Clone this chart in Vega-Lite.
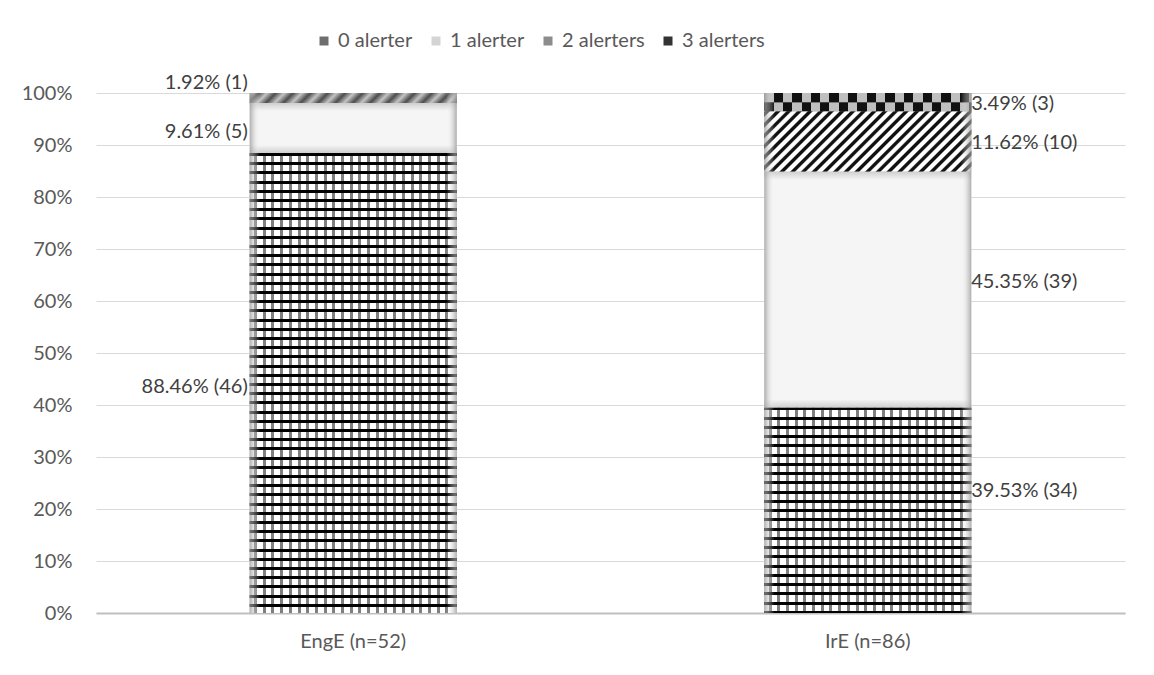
{
  "$schema": "https://vega.github.io/schema/vega-lite/v6.json",
  "width": 1029,
  "height": 520,
  "autosize": {"type": "none"},
  "padding": {"left": 96, "top": 93, "right": 29, "bottom": 62},
  "background": "white",
  "config": {
    "view": {"stroke": null},
    "font": "Lato",
    "axis": {"labelFont": "Lato", "labelColor": "#595959", "labelFontSize": 20, "title": null, "ticks": false}
  },
  "data": {
    "values": [
      {"group": "EngE (n=52)", "alerters": "0 alerter", "pct": 88.46, "n": 46},
      {"group": "EngE (n=52)", "alerters": "1 alerter", "pct": 9.61, "n": 5},
      {"group": "EngE (n=52)", "alerters": "2 alerters", "pct": 1.92, "n": 1},
      {"group": "IrE (n=86)", "alerters": "0 alerter", "pct": 39.53, "n": 34},
      {"group": "IrE (n=86)", "alerters": "1 alerter", "pct": 45.35, "n": 39},
      {"group": "IrE (n=86)", "alerters": "2 alerters", "pct": 11.62, "n": 10},
      {"group": "IrE (n=86)", "alerters": "3 alerters", "pct": 3.49, "n": 3}
    ]
  },
  "transform": [
    {"stack": "pct", "groupby": ["group"], "sort": [{"field": "alerters", "order": "ascending"}], "as": ["lo", "hi"]},
    {"calculate": "(datum.lo + datum.hi) / 2", "as": "mid"},
    {"calculate": "format(datum.pct, '.2f') + '% (' + datum.n + ')'", "as": "label"}
  ],
  "encoding": {
    "x": {
      "field": "group",
      "type": "nominal",
      "scale": {"paddingInner": 0.5977, "paddingOuter": 0.2988},
      "axis": {"labelAngle": 0, "labelPadding": 18, "domainColor": "#bfbfbf", "domainWidth": 2, "grid": false}
    }
  },
  "layer": [
    {
      "mark": {"type": "bar"},
      "encoding": {
        "y": {
          "field": "lo",
          "type": "quantitative",
          "scale": {"domain": [0, 100], "nice": false},
          "axis": {
            "values": [0, 10, 20, 30, 40, 50, 60, 70, 80, 90, 100],
            "labelExpr": "datum.value + '%'",
            "domain": false,
            "grid": true,
            "gridColor": "#d9d9d9",
            "gridWidth": 1,
            "labelPadding": 24
          }
        },
        "y2": {"field": "hi"},
        "fill": {
          "field": "alerters",
          "type": "nominal",
          "scale": {
            "domain": ["0 alerter", "1 alerter", "2 alerters", "3 alerters"],
            "range": ["#6e6e6e", "#d4d4d4", "#8c8c8c", "#333333"]
          },
          "legend": {
            "orient": "none",
            "legendX": 218,
            "legendY": -62,
            "direction": "horizontal",
            "title": null,
            "symbolType": "square",
            "symbolSize": 81,
            "symbolStrokeWidth": 0,
            "labelFont": "Lato",
            "labelFontSize": 20,
            "labelColor": "#595959",
            "labelOffset": 4,
            "columnPadding": 13
          }
        }
      }
    },
    {
      "description": "brick courses, EngE",
      "transform": [{"filter": "datum.group === 'EngE (n=52)' && datum.alerters === '0 alerter'"}],
      "mark": {
        "type": "bar",
        "fill": {
          "gradient": "linear", "x1": 0, "y1": 0, "x2": 0, "y2": 1,
          "stops": [
            {"offset":0,"color":"#000"},{"offset":0.0065,"color":"#000"},{"offset":0.0065,"color":"#fff"},{"offset":0.02,"color":"#fff"},
            {"offset":0.02,"color":"#000"},{"offset":0.0265,"color":"#000"},{"offset":0.0265,"color":"#fff"},{"offset":0.04,"color":"#fff"},
            {"offset":0.04,"color":"#000"},{"offset":0.0465,"color":"#000"},{"offset":0.0465,"color":"#fff"},{"offset":0.06,"color":"#fff"},
            {"offset":0.06,"color":"#000"},{"offset":0.0665,"color":"#000"},{"offset":0.0665,"color":"#fff"},{"offset":0.08,"color":"#fff"},
            {"offset":0.08,"color":"#000"},{"offset":0.0865,"color":"#000"},{"offset":0.0865,"color":"#fff"},{"offset":0.1,"color":"#fff"},
            {"offset":0.1,"color":"#000"},{"offset":0.1065,"color":"#000"},{"offset":0.1065,"color":"#fff"},{"offset":0.12,"color":"#fff"},
            {"offset":0.12,"color":"#000"},{"offset":0.1265,"color":"#000"},{"offset":0.1265,"color":"#fff"},{"offset":0.14,"color":"#fff"},
            {"offset":0.14,"color":"#000"},{"offset":0.1465,"color":"#000"},{"offset":0.1465,"color":"#fff"},{"offset":0.16,"color":"#fff"},
            {"offset":0.16,"color":"#000"},{"offset":0.1665,"color":"#000"},{"offset":0.1665,"color":"#fff"},{"offset":0.18,"color":"#fff"},
            {"offset":0.18,"color":"#000"},{"offset":0.1865,"color":"#000"},{"offset":0.1865,"color":"#fff"},{"offset":0.2,"color":"#fff"},
            {"offset":0.2,"color":"#000"},{"offset":0.2065,"color":"#000"},{"offset":0.2065,"color":"#fff"},{"offset":0.22,"color":"#fff"},
            {"offset":0.22,"color":"#000"},{"offset":0.2265,"color":"#000"},{"offset":0.2265,"color":"#fff"},{"offset":0.24,"color":"#fff"},
            {"offset":0.24,"color":"#000"},{"offset":0.2465,"color":"#000"},{"offset":0.2465,"color":"#fff"},{"offset":0.26,"color":"#fff"},
            {"offset":0.26,"color":"#000"},{"offset":0.2665,"color":"#000"},{"offset":0.2665,"color":"#fff"},{"offset":0.28,"color":"#fff"},
            {"offset":0.28,"color":"#000"},{"offset":0.2865,"color":"#000"},{"offset":0.2865,"color":"#fff"},{"offset":0.3,"color":"#fff"},
            {"offset":0.3,"color":"#000"},{"offset":0.3065,"color":"#000"},{"offset":0.3065,"color":"#fff"},{"offset":0.32,"color":"#fff"},
            {"offset":0.32,"color":"#000"},{"offset":0.3265,"color":"#000"},{"offset":0.3265,"color":"#fff"},{"offset":0.34,"color":"#fff"},
            {"offset":0.34,"color":"#000"},{"offset":0.3465,"color":"#000"},{"offset":0.3465,"color":"#fff"},{"offset":0.36,"color":"#fff"},
            {"offset":0.36,"color":"#000"},{"offset":0.3665,"color":"#000"},{"offset":0.3665,"color":"#fff"},{"offset":0.38,"color":"#fff"},
            {"offset":0.38,"color":"#000"},{"offset":0.3865,"color":"#000"},{"offset":0.3865,"color":"#fff"},{"offset":0.4,"color":"#fff"},
            {"offset":0.4,"color":"#000"},{"offset":0.4065,"color":"#000"},{"offset":0.4065,"color":"#fff"},{"offset":0.42,"color":"#fff"},
            {"offset":0.42,"color":"#000"},{"offset":0.4265,"color":"#000"},{"offset":0.4265,"color":"#fff"},{"offset":0.44,"color":"#fff"},
            {"offset":0.44,"color":"#000"},{"offset":0.4465,"color":"#000"},{"offset":0.4465,"color":"#fff"},{"offset":0.46,"color":"#fff"},
            {"offset":0.46,"color":"#000"},{"offset":0.4665,"color":"#000"},{"offset":0.4665,"color":"#fff"},{"offset":0.48,"color":"#fff"},
            {"offset":0.48,"color":"#000"},{"offset":0.4865,"color":"#000"},{"offset":0.4865,"color":"#fff"},{"offset":0.5,"color":"#fff"},
            {"offset":0.5,"color":"#000"},{"offset":0.5065,"color":"#000"},{"offset":0.5065,"color":"#fff"},{"offset":0.52,"color":"#fff"},
            {"offset":0.52,"color":"#000"},{"offset":0.5265,"color":"#000"},{"offset":0.5265,"color":"#fff"},{"offset":0.54,"color":"#fff"},
            {"offset":0.54,"color":"#000"},{"offset":0.5465,"color":"#000"},{"offset":0.5465,"color":"#fff"},{"offset":0.56,"color":"#fff"},
            {"offset":0.56,"color":"#000"},{"offset":0.5665,"color":"#000"},{"offset":0.5665,"color":"#fff"},{"offset":0.58,"color":"#fff"},
            {"offset":0.58,"color":"#000"},{"offset":0.5865,"color":"#000"},{"offset":0.5865,"color":"#fff"},{"offset":0.6,"color":"#fff"},
            {"offset":0.6,"color":"#000"},{"offset":0.6065,"color":"#000"},{"offset":0.6065,"color":"#fff"},{"offset":0.62,"color":"#fff"},
            {"offset":0.62,"color":"#000"},{"offset":0.6265,"color":"#000"},{"offset":0.6265,"color":"#fff"},{"offset":0.64,"color":"#fff"},
            {"offset":0.64,"color":"#000"},{"offset":0.6465,"color":"#000"},{"offset":0.6465,"color":"#fff"},{"offset":0.66,"color":"#fff"},
            {"offset":0.66,"color":"#000"},{"offset":0.6665,"color":"#000"},{"offset":0.6665,"color":"#fff"},{"offset":0.68,"color":"#fff"},
            {"offset":0.68,"color":"#000"},{"offset":0.6865,"color":"#000"},{"offset":0.6865,"color":"#fff"},{"offset":0.7,"color":"#fff"},
            {"offset":0.7,"color":"#000"},{"offset":0.7065,"color":"#000"},{"offset":0.7065,"color":"#fff"},{"offset":0.72,"color":"#fff"},
            {"offset":0.72,"color":"#000"},{"offset":0.7265,"color":"#000"},{"offset":0.7265,"color":"#fff"},{"offset":0.74,"color":"#fff"},
            {"offset":0.74,"color":"#000"},{"offset":0.7465,"color":"#000"},{"offset":0.7465,"color":"#fff"},{"offset":0.76,"color":"#fff"},
            {"offset":0.76,"color":"#000"},{"offset":0.7665,"color":"#000"},{"offset":0.7665,"color":"#fff"},{"offset":0.78,"color":"#fff"},
            {"offset":0.78,"color":"#000"},{"offset":0.7865,"color":"#000"},{"offset":0.7865,"color":"#fff"},{"offset":0.8,"color":"#fff"},
            {"offset":0.8,"color":"#000"},{"offset":0.8065,"color":"#000"},{"offset":0.8065,"color":"#fff"},{"offset":0.82,"color":"#fff"},
            {"offset":0.82,"color":"#000"},{"offset":0.8265,"color":"#000"},{"offset":0.8265,"color":"#fff"},{"offset":0.84,"color":"#fff"},
            {"offset":0.84,"color":"#000"},{"offset":0.8465,"color":"#000"},{"offset":0.8465,"color":"#fff"},{"offset":0.86,"color":"#fff"},
            {"offset":0.86,"color":"#000"},{"offset":0.8665,"color":"#000"},{"offset":0.8665,"color":"#fff"},{"offset":0.88,"color":"#fff"},
            {"offset":0.88,"color":"#000"},{"offset":0.8865,"color":"#000"},{"offset":0.8865,"color":"#fff"},{"offset":0.9,"color":"#fff"},
            {"offset":0.9,"color":"#000"},{"offset":0.9065,"color":"#000"},{"offset":0.9065,"color":"#fff"},{"offset":0.92,"color":"#fff"},
            {"offset":0.92,"color":"#000"},{"offset":0.9265,"color":"#000"},{"offset":0.9265,"color":"#fff"},{"offset":0.94,"color":"#fff"},
            {"offset":0.94,"color":"#000"},{"offset":0.9465,"color":"#000"},{"offset":0.9465,"color":"#fff"},{"offset":0.96,"color":"#fff"},
            {"offset":0.96,"color":"#000"},{"offset":0.9665,"color":"#000"},{"offset":0.9665,"color":"#fff"},{"offset":0.98,"color":"#fff"},
            {"offset":0.98,"color":"#000"},{"offset":0.9865,"color":"#000"},{"offset":0.9865,"color":"#fff"},{"offset":1,"color":"#fff"}
          ]
        }
      },
      "encoding": {"y": {"field": "lo", "type": "quantitative"}, "y2": {"field": "hi"}}
    },
    {
      "description": "brick courses, IrE",
      "transform": [{"filter": "datum.group === 'IrE (n=86)' && datum.alerters === '0 alerter'"}],
      "mark": {
        "type": "bar",
        "fill": {
          "gradient": "linear", "x1": 0, "y1": 0, "x2": 0, "y2": 1,
          "stops": [
            {"offset":0,"color":"#000"},{"offset":0.0145,"color":"#000"},{"offset":0.0145,"color":"#fff"},{"offset":0.045,"color":"#fff"},
            {"offset":0.045,"color":"#000"},{"offset":0.0595,"color":"#000"},{"offset":0.0595,"color":"#fff"},{"offset":0.09,"color":"#fff"},
            {"offset":0.09,"color":"#000"},{"offset":0.1045,"color":"#000"},{"offset":0.1045,"color":"#fff"},{"offset":0.135,"color":"#fff"},
            {"offset":0.135,"color":"#000"},{"offset":0.1495,"color":"#000"},{"offset":0.1495,"color":"#fff"},{"offset":0.18,"color":"#fff"},
            {"offset":0.18,"color":"#000"},{"offset":0.1945,"color":"#000"},{"offset":0.1945,"color":"#fff"},{"offset":0.225,"color":"#fff"},
            {"offset":0.225,"color":"#000"},{"offset":0.2395,"color":"#000"},{"offset":0.2395,"color":"#fff"},{"offset":0.27,"color":"#fff"},
            {"offset":0.27,"color":"#000"},{"offset":0.2845,"color":"#000"},{"offset":0.2845,"color":"#fff"},{"offset":0.315,"color":"#fff"},
            {"offset":0.315,"color":"#000"},{"offset":0.3295,"color":"#000"},{"offset":0.3295,"color":"#fff"},{"offset":0.36,"color":"#fff"},
            {"offset":0.36,"color":"#000"},{"offset":0.3745,"color":"#000"},{"offset":0.3745,"color":"#fff"},{"offset":0.405,"color":"#fff"},
            {"offset":0.405,"color":"#000"},{"offset":0.4195,"color":"#000"},{"offset":0.4195,"color":"#fff"},{"offset":0.45,"color":"#fff"},
            {"offset":0.45,"color":"#000"},{"offset":0.4645,"color":"#000"},{"offset":0.4645,"color":"#fff"},{"offset":0.495,"color":"#fff"},
            {"offset":0.495,"color":"#000"},{"offset":0.5095,"color":"#000"},{"offset":0.5095,"color":"#fff"},{"offset":0.54,"color":"#fff"},
            {"offset":0.54,"color":"#000"},{"offset":0.5545,"color":"#000"},{"offset":0.5545,"color":"#fff"},{"offset":0.585,"color":"#fff"},
            {"offset":0.585,"color":"#000"},{"offset":0.5995,"color":"#000"},{"offset":0.5995,"color":"#fff"},{"offset":0.63,"color":"#fff"},
            {"offset":0.63,"color":"#000"},{"offset":0.6445,"color":"#000"},{"offset":0.6445,"color":"#fff"},{"offset":0.675,"color":"#fff"},
            {"offset":0.675,"color":"#000"},{"offset":0.6895,"color":"#000"},{"offset":0.6895,"color":"#fff"},{"offset":0.72,"color":"#fff"},
            {"offset":0.72,"color":"#000"},{"offset":0.7345,"color":"#000"},{"offset":0.7345,"color":"#fff"},{"offset":0.765,"color":"#fff"},
            {"offset":0.765,"color":"#000"},{"offset":0.7795,"color":"#000"},{"offset":0.7795,"color":"#fff"},{"offset":0.81,"color":"#fff"},
            {"offset":0.81,"color":"#000"},{"offset":0.8245,"color":"#000"},{"offset":0.8245,"color":"#fff"},{"offset":0.855,"color":"#fff"},
            {"offset":0.855,"color":"#000"},{"offset":0.8695,"color":"#000"},{"offset":0.8695,"color":"#fff"},{"offset":0.9,"color":"#fff"},
            {"offset":0.9,"color":"#000"},{"offset":0.9145,"color":"#000"},{"offset":0.9145,"color":"#fff"},{"offset":0.945,"color":"#fff"},
            {"offset":0.945,"color":"#000"},{"offset":0.9595,"color":"#000"},{"offset":0.9595,"color":"#fff"},{"offset":0.99,"color":"#fff"},
            {"offset":0.99,"color":"#000"},{"offset":1,"color":"#000"}
          ]
        }
      },
      "encoding": {"y": {"field": "lo", "type": "quantitative"}, "y2": {"field": "hi"}}
    },
    {
      "description": "brick joints, staggered courses shown at half strength",
      "transform": [{"filter": "datum.alerters === '0 alerter'"}],
      "mark": {
        "type": "bar",
        "fill": {
          "gradient": "linear", "x1": 0, "y1": 0, "x2": 1, "y2": 0,
          "stops": [
            {"offset":0,"color":"rgba(0,0,0,0)"},
            {"offset":0.021,"color":"rgba(0,0,0,0)"},{"offset":0.021,"color":"rgba(0,0,0,0.5)"},{"offset":0.0355,"color":"rgba(0,0,0,0.5)"},{"offset":0.0355,"color":"rgba(0,0,0,0)"},
            {"offset":0.063,"color":"rgba(0,0,0,0)"},{"offset":0.063,"color":"rgba(0,0,0,0.5)"},{"offset":0.0775,"color":"rgba(0,0,0,0.5)"},{"offset":0.0775,"color":"rgba(0,0,0,0)"},
            {"offset":0.105,"color":"rgba(0,0,0,0)"},{"offset":0.105,"color":"rgba(0,0,0,0.5)"},{"offset":0.1195,"color":"rgba(0,0,0,0.5)"},{"offset":0.1195,"color":"rgba(0,0,0,0)"},
            {"offset":0.147,"color":"rgba(0,0,0,0)"},{"offset":0.147,"color":"rgba(0,0,0,0.5)"},{"offset":0.1615,"color":"rgba(0,0,0,0.5)"},{"offset":0.1615,"color":"rgba(0,0,0,0)"},
            {"offset":0.189,"color":"rgba(0,0,0,0)"},{"offset":0.189,"color":"rgba(0,0,0,0.5)"},{"offset":0.2035,"color":"rgba(0,0,0,0.5)"},{"offset":0.2035,"color":"rgba(0,0,0,0)"},
            {"offset":0.231,"color":"rgba(0,0,0,0)"},{"offset":0.231,"color":"rgba(0,0,0,0.5)"},{"offset":0.2455,"color":"rgba(0,0,0,0.5)"},{"offset":0.2455,"color":"rgba(0,0,0,0)"},
            {"offset":0.273,"color":"rgba(0,0,0,0)"},{"offset":0.273,"color":"rgba(0,0,0,0.5)"},{"offset":0.2875,"color":"rgba(0,0,0,0.5)"},{"offset":0.2875,"color":"rgba(0,0,0,0)"},
            {"offset":0.315,"color":"rgba(0,0,0,0)"},{"offset":0.315,"color":"rgba(0,0,0,0.5)"},{"offset":0.3295,"color":"rgba(0,0,0,0.5)"},{"offset":0.3295,"color":"rgba(0,0,0,0)"},
            {"offset":0.357,"color":"rgba(0,0,0,0)"},{"offset":0.357,"color":"rgba(0,0,0,0.5)"},{"offset":0.3715,"color":"rgba(0,0,0,0.5)"},{"offset":0.3715,"color":"rgba(0,0,0,0)"},
            {"offset":0.399,"color":"rgba(0,0,0,0)"},{"offset":0.399,"color":"rgba(0,0,0,0.5)"},{"offset":0.4135,"color":"rgba(0,0,0,0.5)"},{"offset":0.4135,"color":"rgba(0,0,0,0)"},
            {"offset":0.441,"color":"rgba(0,0,0,0)"},{"offset":0.441,"color":"rgba(0,0,0,0.5)"},{"offset":0.4555,"color":"rgba(0,0,0,0.5)"},{"offset":0.4555,"color":"rgba(0,0,0,0)"},
            {"offset":0.483,"color":"rgba(0,0,0,0)"},{"offset":0.483,"color":"rgba(0,0,0,0.5)"},{"offset":0.4975,"color":"rgba(0,0,0,0.5)"},{"offset":0.4975,"color":"rgba(0,0,0,0)"},
            {"offset":0.525,"color":"rgba(0,0,0,0)"},{"offset":0.525,"color":"rgba(0,0,0,0.5)"},{"offset":0.5395,"color":"rgba(0,0,0,0.5)"},{"offset":0.5395,"color":"rgba(0,0,0,0)"},
            {"offset":0.567,"color":"rgba(0,0,0,0)"},{"offset":0.567,"color":"rgba(0,0,0,0.5)"},{"offset":0.5815,"color":"rgba(0,0,0,0.5)"},{"offset":0.5815,"color":"rgba(0,0,0,0)"},
            {"offset":0.609,"color":"rgba(0,0,0,0)"},{"offset":0.609,"color":"rgba(0,0,0,0.5)"},{"offset":0.6235,"color":"rgba(0,0,0,0.5)"},{"offset":0.6235,"color":"rgba(0,0,0,0)"},
            {"offset":0.651,"color":"rgba(0,0,0,0)"},{"offset":0.651,"color":"rgba(0,0,0,0.5)"},{"offset":0.6655,"color":"rgba(0,0,0,0.5)"},{"offset":0.6655,"color":"rgba(0,0,0,0)"},
            {"offset":0.693,"color":"rgba(0,0,0,0)"},{"offset":0.693,"color":"rgba(0,0,0,0.5)"},{"offset":0.7075,"color":"rgba(0,0,0,0.5)"},{"offset":0.7075,"color":"rgba(0,0,0,0)"},
            {"offset":0.735,"color":"rgba(0,0,0,0)"},{"offset":0.735,"color":"rgba(0,0,0,0.5)"},{"offset":0.7495,"color":"rgba(0,0,0,0.5)"},{"offset":0.7495,"color":"rgba(0,0,0,0)"},
            {"offset":0.777,"color":"rgba(0,0,0,0)"},{"offset":0.777,"color":"rgba(0,0,0,0.5)"},{"offset":0.7915,"color":"rgba(0,0,0,0.5)"},{"offset":0.7915,"color":"rgba(0,0,0,0)"},
            {"offset":0.819,"color":"rgba(0,0,0,0)"},{"offset":0.819,"color":"rgba(0,0,0,0.5)"},{"offset":0.8335,"color":"rgba(0,0,0,0.5)"},{"offset":0.8335,"color":"rgba(0,0,0,0)"},
            {"offset":0.861,"color":"rgba(0,0,0,0)"},{"offset":0.861,"color":"rgba(0,0,0,0.5)"},{"offset":0.8755,"color":"rgba(0,0,0,0.5)"},{"offset":0.8755,"color":"rgba(0,0,0,0)"},
            {"offset":0.903,"color":"rgba(0,0,0,0)"},{"offset":0.903,"color":"rgba(0,0,0,0.5)"},{"offset":0.9175,"color":"rgba(0,0,0,0.5)"},{"offset":0.9175,"color":"rgba(0,0,0,0)"},
            {"offset":0.945,"color":"rgba(0,0,0,0)"},{"offset":0.945,"color":"rgba(0,0,0,0.5)"},{"offset":0.9595,"color":"rgba(0,0,0,0.5)"},{"offset":0.9595,"color":"rgba(0,0,0,0)"},
            {"offset":1,"color":"rgba(0,0,0,0)"}
          ]
        }
      },
      "encoding": {"y": {"field": "lo", "type": "quantitative"}, "y2": {"field": "hi"}}
    },
    {
      "description": "dotted fill, EngE",
      "transform": [{"filter": "datum.group === 'EngE (n=52)' && datum.alerters === '1 alerter'"}],
      "mark": {
        "type": "bar",
        "fill": {
          "gradient": "linear", "x1": 0, "y1": 0, "x2": 0, "y2": 1,
          "stops": [
            {"offset": 0, "color": "#cfcfcf"},
            {"offset": 0.16, "color": "#f5f5f5"},
            {"offset": 0.84, "color": "#f5f5f5"},
            {"offset": 1, "color": "#cfcfcf"}
          ]
        }
      },
      "encoding": {"y": {"field": "lo", "type": "quantitative"}, "y2": {"field": "hi"}}
    },
    {
      "description": "dotted fill, IrE",
      "transform": [{"filter": "datum.group === 'IrE (n=86)' && datum.alerters === '1 alerter'"}],
      "mark": {
        "type": "bar",
        "fill": {
          "gradient": "linear", "x1": 0, "y1": 0, "x2": 0, "y2": 1,
          "stops": [
            {"offset": 0, "color": "#cfcfcf"},
            {"offset": 0.035, "color": "#f5f5f5"},
            {"offset": 0.965, "color": "#f5f5f5"},
            {"offset": 1, "color": "#cfcfcf"}
          ]
        }
      },
      "encoding": {"y": {"field": "lo", "type": "quantitative"}, "y2": {"field": "hi"}}
    },
    {
      "description": "dashed diagonal strip, EngE",
      "transform": [{"filter": "datum.group === 'EngE (n=52)' && datum.alerters === '2 alerters'"}],
      "mark": {
        "type": "bar",
        "fill": {
          "gradient": "linear", "x1": 0, "y1": 0, "x2": 1.0459, "y2": 0.0505,
          "stops": [
            {"offset":0,"color":"#c4c4c4"},{"offset":0.04,"color":"#4d4d4d"},{"offset":0.08,"color":"#c4c4c4"},{"offset":0.12,"color":"#4d4d4d"},
            {"offset":0.16,"color":"#c4c4c4"},{"offset":0.2,"color":"#4d4d4d"},{"offset":0.24,"color":"#c4c4c4"},{"offset":0.28,"color":"#4d4d4d"},
            {"offset":0.32,"color":"#c4c4c4"},{"offset":0.36,"color":"#4d4d4d"},{"offset":0.4,"color":"#c4c4c4"},{"offset":0.44,"color":"#4d4d4d"},
            {"offset":0.48,"color":"#c4c4c4"},{"offset":0.52,"color":"#4d4d4d"},{"offset":0.56,"color":"#c4c4c4"},{"offset":0.6,"color":"#4d4d4d"},
            {"offset":0.64,"color":"#c4c4c4"},{"offset":0.68,"color":"#4d4d4d"},{"offset":0.72,"color":"#c4c4c4"},{"offset":0.76,"color":"#4d4d4d"},
            {"offset":0.8,"color":"#c4c4c4"},{"offset":0.84,"color":"#4d4d4d"},{"offset":0.88,"color":"#c4c4c4"},{"offset":0.92,"color":"#4d4d4d"},
            {"offset":0.96,"color":"#c4c4c4"},{"offset":1,"color":"#4d4d4d"}
          ]
        }
      },
      "encoding": {"y": {"field": "lo", "type": "quantitative"}, "y2": {"field": "hi"}}
    },
    {
      "description": "wide diagonal hatching, IrE",
      "transform": [{"filter": "datum.group === 'IrE (n=86)' && datum.alerters === '2 alerters'"}],
      "mark": {
        "type": "bar",
        "fill": {
          "gradient": "linear", "x1": 0, "y1": 0, "x2": 1.1905, "y2": 0.3475,
          "stops": [
            {"offset":0,"color":"#fff"},{"offset":0.006,"color":"#111"},{"offset":0.018,"color":"#111"},{"offset":0.024,"color":"#fff"},
            {"offset":0.04,"color":"#fff"},{"offset":0.046,"color":"#111"},{"offset":0.058,"color":"#111"},{"offset":0.064,"color":"#fff"},
            {"offset":0.08,"color":"#fff"},{"offset":0.086,"color":"#111"},{"offset":0.098,"color":"#111"},{"offset":0.104,"color":"#fff"},
            {"offset":0.12,"color":"#fff"},{"offset":0.126,"color":"#111"},{"offset":0.138,"color":"#111"},{"offset":0.144,"color":"#fff"},
            {"offset":0.16,"color":"#fff"},{"offset":0.166,"color":"#111"},{"offset":0.178,"color":"#111"},{"offset":0.184,"color":"#fff"},
            {"offset":0.2,"color":"#fff"},{"offset":0.206,"color":"#111"},{"offset":0.218,"color":"#111"},{"offset":0.224,"color":"#fff"},
            {"offset":0.24,"color":"#fff"},{"offset":0.246,"color":"#111"},{"offset":0.258,"color":"#111"},{"offset":0.264,"color":"#fff"},
            {"offset":0.28,"color":"#fff"},{"offset":0.286,"color":"#111"},{"offset":0.298,"color":"#111"},{"offset":0.304,"color":"#fff"},
            {"offset":0.32,"color":"#fff"},{"offset":0.326,"color":"#111"},{"offset":0.338,"color":"#111"},{"offset":0.344,"color":"#fff"},
            {"offset":0.36,"color":"#fff"},{"offset":0.366,"color":"#111"},{"offset":0.378,"color":"#111"},{"offset":0.384,"color":"#fff"},
            {"offset":0.4,"color":"#fff"},{"offset":0.406,"color":"#111"},{"offset":0.418,"color":"#111"},{"offset":0.424,"color":"#fff"},
            {"offset":0.44,"color":"#fff"},{"offset":0.446,"color":"#111"},{"offset":0.458,"color":"#111"},{"offset":0.464,"color":"#fff"},
            {"offset":0.48,"color":"#fff"},{"offset":0.486,"color":"#111"},{"offset":0.498,"color":"#111"},{"offset":0.504,"color":"#fff"},
            {"offset":0.52,"color":"#fff"},{"offset":0.526,"color":"#111"},{"offset":0.538,"color":"#111"},{"offset":0.544,"color":"#fff"},
            {"offset":0.56,"color":"#fff"},{"offset":0.566,"color":"#111"},{"offset":0.578,"color":"#111"},{"offset":0.584,"color":"#fff"},
            {"offset":0.6,"color":"#fff"},{"offset":0.606,"color":"#111"},{"offset":0.618,"color":"#111"},{"offset":0.624,"color":"#fff"},
            {"offset":0.64,"color":"#fff"},{"offset":0.646,"color":"#111"},{"offset":0.658,"color":"#111"},{"offset":0.664,"color":"#fff"},
            {"offset":0.68,"color":"#fff"},{"offset":0.686,"color":"#111"},{"offset":0.698,"color":"#111"},{"offset":0.704,"color":"#fff"},
            {"offset":0.72,"color":"#fff"},{"offset":0.726,"color":"#111"},{"offset":0.738,"color":"#111"},{"offset":0.744,"color":"#fff"},
            {"offset":0.76,"color":"#fff"},{"offset":0.766,"color":"#111"},{"offset":0.778,"color":"#111"},{"offset":0.784,"color":"#fff"},
            {"offset":0.8,"color":"#fff"},{"offset":0.806,"color":"#111"},{"offset":0.818,"color":"#111"},{"offset":0.824,"color":"#fff"},
            {"offset":0.84,"color":"#fff"},{"offset":0.846,"color":"#111"},{"offset":0.858,"color":"#111"},{"offset":0.864,"color":"#fff"},
            {"offset":0.88,"color":"#fff"},{"offset":0.886,"color":"#111"},{"offset":0.898,"color":"#111"},{"offset":0.904,"color":"#fff"},
            {"offset":0.92,"color":"#fff"},{"offset":0.926,"color":"#111"},{"offset":0.938,"color":"#111"},{"offset":0.944,"color":"#fff"},
            {"offset":0.96,"color":"#fff"},{"offset":0.966,"color":"#111"},{"offset":0.978,"color":"#111"},{"offset":0.984,"color":"#fff"},
            {"offset":1,"color":"#fff"}
          ]
        }
      },
      "encoding": {"y": {"field": "lo", "type": "quantitative"}, "y2": {"field": "hi"}}
    },
    {
      "description": "checkerboard, lower row",
      "transform": [{"filter": "datum.alerters === '3 alerters'"}],
      "mark": {
        "type": "bar",
        "fill": {
          "gradient": "linear", "x1": 0, "y1": 0, "x2": 1, "y2": 0,
          "stops": [
            {"offset":0,"color":"#111"},{"offset":0.045,"color":"#111"},{"offset":0.045,"color":"#bfbfbf"},{"offset":0.09,"color":"#bfbfbf"},
            {"offset":0.09,"color":"#111"},{"offset":0.135,"color":"#111"},{"offset":0.135,"color":"#bfbfbf"},{"offset":0.18,"color":"#bfbfbf"},
            {"offset":0.18,"color":"#111"},{"offset":0.225,"color":"#111"},{"offset":0.225,"color":"#bfbfbf"},{"offset":0.27,"color":"#bfbfbf"},
            {"offset":0.27,"color":"#111"},{"offset":0.315,"color":"#111"},{"offset":0.315,"color":"#bfbfbf"},{"offset":0.36,"color":"#bfbfbf"},
            {"offset":0.36,"color":"#111"},{"offset":0.405,"color":"#111"},{"offset":0.405,"color":"#bfbfbf"},{"offset":0.45,"color":"#bfbfbf"},
            {"offset":0.45,"color":"#111"},{"offset":0.495,"color":"#111"},{"offset":0.495,"color":"#bfbfbf"},{"offset":0.54,"color":"#bfbfbf"},
            {"offset":0.54,"color":"#111"},{"offset":0.585,"color":"#111"},{"offset":0.585,"color":"#bfbfbf"},{"offset":0.63,"color":"#bfbfbf"},
            {"offset":0.63,"color":"#111"},{"offset":0.675,"color":"#111"},{"offset":0.675,"color":"#bfbfbf"},{"offset":0.72,"color":"#bfbfbf"},
            {"offset":0.72,"color":"#111"},{"offset":0.765,"color":"#111"},{"offset":0.765,"color":"#bfbfbf"},{"offset":0.81,"color":"#bfbfbf"},
            {"offset":0.81,"color":"#111"},{"offset":0.855,"color":"#111"},{"offset":0.855,"color":"#bfbfbf"},{"offset":0.9,"color":"#bfbfbf"},
            {"offset":0.9,"color":"#111"},{"offset":0.945,"color":"#111"},{"offset":0.945,"color":"#bfbfbf"},{"offset":0.99,"color":"#bfbfbf"},
            {"offset":0.99,"color":"#111"},{"offset":1,"color":"#111"}
          ]
        }
      },
      "encoding": {"y": {"field": "lo", "type": "quantitative"}, "y2": {"field": "mid"}}
    },
    {
      "description": "checkerboard, upper row",
      "transform": [{"filter": "datum.alerters === '3 alerters'"}],
      "mark": {
        "type": "bar",
        "fill": {
          "gradient": "linear", "x1": 0, "y1": 0, "x2": 1, "y2": 0,
          "stops": [
            {"offset":0,"color":"#bfbfbf"},{"offset":0.045,"color":"#bfbfbf"},{"offset":0.045,"color":"#111"},{"offset":0.09,"color":"#111"},
            {"offset":0.09,"color":"#bfbfbf"},{"offset":0.135,"color":"#bfbfbf"},{"offset":0.135,"color":"#111"},{"offset":0.18,"color":"#111"},
            {"offset":0.18,"color":"#bfbfbf"},{"offset":0.225,"color":"#bfbfbf"},{"offset":0.225,"color":"#111"},{"offset":0.27,"color":"#111"},
            {"offset":0.27,"color":"#bfbfbf"},{"offset":0.315,"color":"#bfbfbf"},{"offset":0.315,"color":"#111"},{"offset":0.36,"color":"#111"},
            {"offset":0.36,"color":"#bfbfbf"},{"offset":0.405,"color":"#bfbfbf"},{"offset":0.405,"color":"#111"},{"offset":0.45,"color":"#111"},
            {"offset":0.45,"color":"#bfbfbf"},{"offset":0.495,"color":"#bfbfbf"},{"offset":0.495,"color":"#111"},{"offset":0.54,"color":"#111"},
            {"offset":0.54,"color":"#bfbfbf"},{"offset":0.585,"color":"#bfbfbf"},{"offset":0.585,"color":"#111"},{"offset":0.63,"color":"#111"},
            {"offset":0.63,"color":"#bfbfbf"},{"offset":0.675,"color":"#bfbfbf"},{"offset":0.675,"color":"#111"},{"offset":0.72,"color":"#111"},
            {"offset":0.72,"color":"#bfbfbf"},{"offset":0.765,"color":"#bfbfbf"},{"offset":0.765,"color":"#111"},{"offset":0.81,"color":"#111"},
            {"offset":0.81,"color":"#bfbfbf"},{"offset":0.855,"color":"#bfbfbf"},{"offset":0.855,"color":"#111"},{"offset":0.9,"color":"#111"},
            {"offset":0.9,"color":"#bfbfbf"},{"offset":0.945,"color":"#bfbfbf"},{"offset":0.945,"color":"#111"},{"offset":0.99,"color":"#111"},
            {"offset":0.99,"color":"#bfbfbf"},{"offset":1,"color":"#bfbfbf"}
          ]
        }
      },
      "encoding": {"y": {"field": "mid", "type": "quantitative"}, "y2": {"field": "hi"}}
    },
    {
      "description": "soft shading along the bar sides",
      "mark": {
        "type": "bar",
        "fill": {
          "gradient": "linear",
          "x1": 0, "y1": 0, "x2": 1, "y2": 0,
          "stops": [
            {"offset": 0, "color": "rgba(150,150,150,0.75)"},
            {"offset": 0.05, "color": "rgba(255,255,255,0)"},
            {"offset": 0.95, "color": "rgba(255,255,255,0)"},
            {"offset": 1, "color": "rgba(150,150,150,0.75)"}
          ]
        }
      },
      "encoding": {"y": {"field": "lo", "type": "quantitative"}, "y2": {"field": "hi"}}
    },
    {
      "transform": [{"filter": "datum.group === 'EngE (n=52)' && datum.alerters !== '2 alerters'"}],
      "mark": {"type": "text", "align": "right", "baseline": "middle", "dx": -2, "dy": 4, "fontSize": 20, "color": "#404040"},
      "encoding": {
        "x": {"field": "group", "type": "nominal", "bandPosition": 0},
        "y": {"field": "mid", "type": "quantitative"},
        "text": {"field": "label"}
      }
    },
    {
      "transform": [{"filter": "datum.group === 'EngE (n=52)' && datum.alerters === '2 alerters'"}],
      "mark": {"type": "text", "align": "right", "baseline": "middle", "dx": -2, "dy": -15, "fontSize": 20, "color": "#404040"},
      "encoding": {
        "x": {"field": "group", "type": "nominal", "bandPosition": 0},
        "y": {"field": "mid", "type": "quantitative"},
        "text": {"field": "label"}
      }
    },
    {
      "transform": [{"filter": "datum.group === 'IrE (n=86)' && datum.alerters === '0 alerter'"}],
      "mark": {"type": "text", "align": "left", "baseline": "middle", "dx": 0, "dy": -19, "fontSize": 20, "color": "#404040"},
      "encoding": {
        "x": {"field": "group", "type": "nominal", "bandPosition": 1},
        "y": {"field": "mid", "type": "quantitative"},
        "text": {"field": "label"}
      }
    },
    {
      "transform": [{"filter": "datum.group === 'IrE (n=86)' && datum.alerters === '1 alerter'"}],
      "mark": {"type": "text", "align": "left", "baseline": "middle", "dx": 0, "dy": -8, "fontSize": 20, "color": "#404040"},
      "encoding": {
        "x": {"field": "group", "type": "nominal", "bandPosition": 1},
        "y": {"field": "mid", "type": "quantitative"},
        "text": {"field": "label"}
      }
    },
    {
      "transform": [{"filter": "datum.group === 'IrE (n=86)' && (datum.alerters === '2 alerters' || datum.alerters === '3 alerters')"}],
      "mark": {"type": "text", "align": "left", "baseline": "middle", "dx": 0, "dy": 2, "fontSize": 20, "color": "#404040"},
      "encoding": {
        "x": {"field": "group", "type": "nominal", "bandPosition": 1},
        "y": {"field": "mid", "type": "quantitative"},
        "text": {"field": "label"}
      }
    }
  ]
}
